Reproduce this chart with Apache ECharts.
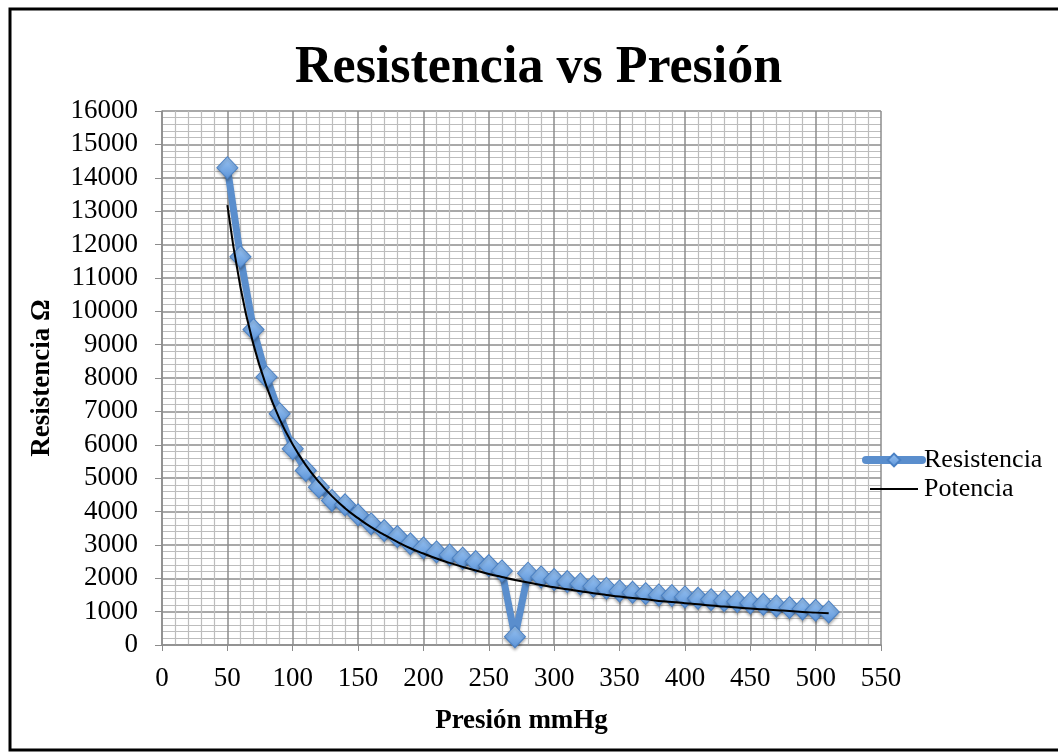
<!DOCTYPE html>
<html>
<head>
<meta charset="utf-8">
<script src="https://cdn.jsdelivr.net/npm/echarts@6/dist/echarts.min.js"></script>
<style>html,body{margin:0;padding:0;background:#fff}#c{width:1058px;height:752px}</style>
</head>
<body>
<div id="c"></div>
<script>
// Presión (mmHg)
const presion = [50,60,70,80,90,100,110,120,130,140,150,160,170,180,190,200,210,220,230,240,250,260,270,280,290,300,310,320,330,340,350,360,370,380,390,400,410,420,430,440,450,460,470,480,490,500,510];
// Resistencia (Ω)
const resistencia = [14300,11630,9450,8030,6930,5880,5230,4730,4330,4200,3900,3630,3430,3250,3030,2910,2790,2700,2600,2500,2380,2220,250,2150,2040,1960,1900,1830,1760,1700,1620,1580,1540,1500,1480,1440,1400,1360,1330,1300,1260,1220,1170,1120,1080,1040,990];
// Potencia (power trendline), values at the same pressures
const trendY = [13180,10720,9000,7740,6770,6010,5390,4890,4460,4100,3800,3530,3300,3090,2900,2740,2590,2460,2340,2230,2130,2040,1950,1870,1800,1730,1670,1610,1550,1500,1450,1410,1370,1320,1290,1250,1220,1180,1150,1120,1090,1070,1040,1020,990,970,950];
const titleText = 'Resistencia vs Presión';
const xName = 'Presión mmHg';
const yName = 'Resistencia Ω';
const seriesNames = ['Resistencia', 'Potencia'];

const mainData = presion.map((p, i) => [p, resistencia[i]]);
const trendData = presion.map((p, i) => [p, trendY[i]]);

const FONT = 'Liberation Serif';
const chart = echarts.init(document.getElementById('c'), null, { renderer: 'canvas' });
chart.setOption({
  backgroundColor: '#fff',
  animation: false,
  title: {
    text: titleText, left: 290, top: 38,
    textStyle: { fontFamily: FONT, fontWeight: 'bold', fontSize: 52, color: '#000' }
  },
  graphic: [{
    type: 'rect', silent: true,
    shape: { x: 10, y: 9, width: 1200, height: 741 },
    style: { fill: 'none', stroke: '#000', lineWidth: 3 }
  }],
  legend: {
    orient: 'vertical', left: 862, top: 447, itemGap: 3, padding: 0,
    itemWidth: 56, itemHeight: 16,
    textStyle: { fontFamily: FONT, fontSize: 26, color: '#000', padding: [0, 0, 0, -3] },
    data: [
      { name: seriesNames[0], lineStyle: { width: 8, cap: 'round' } },
      { name: seriesNames[1], icon: 'path://M0 0 M4 7 L52 7 L52 9 L4 9 Z M56 16' }
    ]
  },
  grid: { left: 162, right: 177, top: 111, bottom: 107 },
  xAxis: {
    type: 'value', min: 0, max: 550, interval: 50,
    name: xName, nameLocation: 'middle', nameGap: 63,
    nameTextStyle: { fontFamily: FONT, fontWeight: 'bold', fontSize: 27, color: '#000' },
    axisLine: { show: true, lineStyle: { color: '#8c8c8c', width: 1.5 } },
    axisTick: { show: true, length: 6, lineStyle: { color: '#8c8c8c' } },
    axisLabel: { fontFamily: FONT, fontSize: 27, color: '#000', margin: 20 },
    splitLine: { show: true, lineStyle: { color: '#8c8c8c', width: 1.5 } },
    minorTick: { show: false, splitNumber: 5 },
    minorSplitLine: { show: true, lineStyle: { color: '#bdbdbd', width: 1.2 } }
  },
  yAxis: {
    type: 'value', min: 0, max: 16000, interval: 1000,
    name: yName, nameLocation: 'middle', nameGap: 106,
    nameTextStyle: { fontFamily: FONT, fontWeight: 'bold', fontSize: 27, color: '#000' },
    axisLine: { show: true, lineStyle: { color: '#8c8c8c', width: 1.5 } },
    axisTick: { show: true, length: 7, lineStyle: { color: '#8c8c8c' } },
    axisLabel: { fontFamily: FONT, fontSize: 27, color: '#000', margin: 24, formatter: v => String(v) },
    splitLine: { show: true, lineStyle: { color: '#8c8c8c', width: 1.5 } },
    minorTick: { show: false, splitNumber: 5 },
    minorSplitLine: { show: true, lineStyle: { color: '#bdbdbd', width: 1.2 } }
  },
  series: [
    {
      name: seriesNames[0], type: 'line', data: mainData,
      symbol: 'diamond', symbolSize: [21, 22],
      lineStyle: { color: '#5a8ecd', width: 7, shadowColor: 'rgba(0,0,0,0.25)', shadowBlur: 3, shadowOffsetY: 2 },
      itemStyle: {
        color: new echarts.graphic.LinearGradient(0, 0, 0, 1, [
          { offset: 0, color: '#9cc6f4' }, { offset: 1, color: '#5b93d8' }
        ]),
        borderColor: '#4a80c4', borderWidth: 1,
        shadowColor: 'rgba(0,0,0,0.3)', shadowBlur: 3, shadowOffsetY: 2
      },
      z: 2
    },
    {
      name: seriesNames[1], type: 'line', data: trendData,
      symbol: 'none', smooth: true,
      lineStyle: { color: '#000', width: 2 },
      itemStyle: { color: '#000' },
      z: 3
    }
  ]
});
</script>
</body>
</html>
